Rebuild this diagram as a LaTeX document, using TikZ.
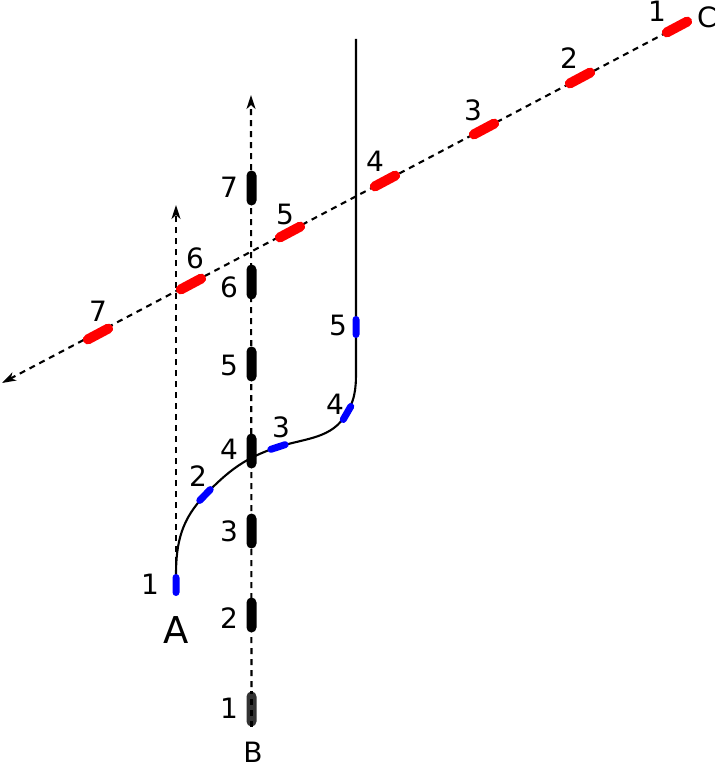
\documentclass[tikz,border=0pt]{standalone}
\usepackage{fontspec}
\setmainfont{DejaVu Sans}
\usetikzlibrary{arrows.meta,backgrounds}
\tikzset{
  dline/.style={line width=2.1pt, dash pattern=on 6pt off 5pt},
  arr/.style={-{Stealth[length=14pt,width=9pt,inset=4pt]}},
  curve/.style={line width=2.1pt},
  bcar/.style={fill=black, rounded corners=5pt, minimum width=10pt, minimum height=35pt, inner sep=0pt},
  rcar/.style={fill=red, rounded corners=5pt, minimum width=33pt, minimum height=10pt, inner sep=0pt},
  ucar/.style={fill=blue, rounded corners=3.5pt, minimum width=22pt, minimum height=7pt, inner sep=0pt},
  lab/.style={font=\fontsize{28}{32}\selectfont, inner sep=0pt},
  bigl/.style={font=\fontsize{37}{42}\selectfont, inner sep=0pt}
}
\begin{document}
\begin{tikzpicture}[x=1pt,y=1pt]
\useasboundingbox (0,0) rectangle (717,-768);
% red cars (C)
\node[rcar, rotate=28] (r1) at (677,-27) {};
\node[rcar, rotate=28] (r2) at (580,-78) {};
\node[rcar, rotate=28] (r3) at (484,-129) {};
\node[rcar, rotate=28] (r4) at (385,-181) {};
\node[rcar, rotate=28] (r5) at (290,-232) {};
\node[rcar, rotate=28] (r6) at (191,-284) {};
\node[rcar, rotate=28] (r7) at (98,-334) {};
\coordinate (rend) at (2,-383);
% black cars (B)
\node[bcar, fill=black!80] (b1) at (251.5,-709) {};
\node[bcar] (b2) at (251.5,-615) {};
\node[bcar] (b3) at (251.5,-531) {};
\node[bcar] (b4) at (251.5,-451) {};
\node[bcar] (b5) at (251.5,-364) {};
\node[bcar] (b6) at (251.5,-282) {};
\node[bcar] (b7) at (251.5,-188) {};
\coordinate (btop) at (251,-95);
% blue cars (A)
\node[ucar, rotate=90] (a1) at (176,-585) {};
\node[ucar, rotate=46] (a2) at (205,-495) {};
\node[ucar, rotate=18] (a3) at (278,-447) {};
\node[ucar, rotate=60] (a4) at (347,-413) {};
\node[ucar, rotate=90] (a5) at (356,-327) {};
\coordinate (atop) at (176,-205);
\coordinate (ctop) at (356,-39);
\begin{scope}[on background layer]
  \draw[dline, arr] (r1.center) -- (rend);
  \draw[dline, arr] (b1.center) -- (btop);
  \draw[dline, arr] (a1.center) -- (atop);
  \draw[curve] (a1.center) -- (176,-575) to[out=90,in=226] (a2.center)
     to[out=46,in=198] (a3.center) to[out=18,in=240] (a4.center)
     to[out=60,in=270] (356,-365) -- (a5.center) -- (ctop);
\end{scope}
\draw[dline] (b1.south) -- (b1.north);
% labels
\node[lab] (lr1) at (657,-11) {1};
\node[lab] (lc) at (707,-17) {C};
\node[lab] (lr2) at (569,-58) {2};
\node[lab] (lr3) at (473,-110) {3};
\node[lab] (lr4) at (375,-161) {4};
\node[lab] (lr5) at (285,-214) {5};
\node[lab] (lr6) at (195,-258) {6};
\node[lab] (lr7) at (98,-311) {7};
\node[lab] (lb1) at (229,-708) {1};
\node[lab] (lb2) at (229,-618) {2};
\node[lab] (lb3) at (229,-531) {3};
\node[lab] (lb4) at (229,-449) {4};
\node[lab] (lb5) at (229,-365) {5};
\node[lab] (lb6) at (229,-287) {6};
\node[lab] (lb7) at (229,-187) {7};
\node[lab] (lbb) at (253,-752) {B};
\node[lab] (la1) at (150,-584) {1};
\node[lab] (la2) at (198,-476) {2};
\node[lab] (la3) at (281,-427) {3};
\node[lab] (la4) at (335,-404) {4};
\node[lab] (la5) at (338,-325) {5};
\node[bigl] (laa) at (176,-630) {A};
\end{tikzpicture}
\end{document}
